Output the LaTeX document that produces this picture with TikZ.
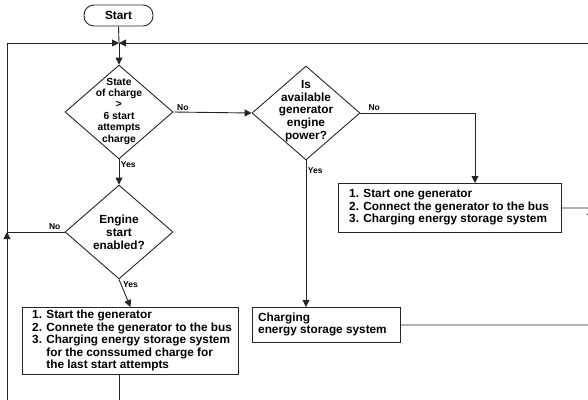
\documentclass[tikz,border=0pt]{standalone}
\usepackage{fontspec}
\setmainfont{Liberation Sans}
\usetikzlibrary{arrows.meta,shapes.geometric}
\begin{document}
\begin{tikzpicture}[x=1pt,y=-1pt,
  every node/.style={font=\bfseries\fontsize{11.8}{12.5}\selectfont},
  line/.style={line width=0.9pt,draw=black!85},
  arr/.style={line,-{Triangle[length=7pt,width=7pt]}},
  dia/.style={diamond,draw=black!85,line width=0.9pt,inner sep=0pt,minimum width=108pt,minimum height=94pt},
  box/.style={rectangle,draw=black!85,line width=0.9pt,inner sep=0pt,anchor=north west},
  btxt/.style={anchor=west,align=left,inner sep=0pt},
  lbl/.style={font=\bfseries\fontsize{8.5}{9}\selectfont,inner sep=1.5pt},
  dtxt/.style={align=center,inner sep=0pt}
]
\useasboundingbox (0,0) rectangle (588,399);
% start
\node[draw=black!85,line width=0.9pt,rounded corners=10pt,minimum width=69pt,minimum height=21pt,inner sep=0pt] (start) at (118.5,15.5) {Start};
\coordinate (m) at (119,43);
% diamonds
\node[dia] (d1) at (119,112) {};
\node[dtxt,font=\bfseries\fontsize{10.3}{11.4}\selectfont] (t1) at (119,111) {State\\of charge\\>\\6 start\\attempts\\charge};
\node[dia] (d2) at (119,232) {};
\node[dtxt,font=\bfseries\fontsize{11.8}{13}\selectfont] (t2) at (119,232.5) {Engine\\start\\enabled?};
\node[dia] (d3) at (306,113) {};
\node[dtxt,font=\bfseries\fontsize{11.8}{12.7}\selectfont] (t3) at (306,111) {Is\\available\\generator\\engine\\power?};
% boxes
\node[box,minimum width=223pt,minimum height=49pt] (b2) at (338,183) {};
\node[btxt] (x2) at ([xshift=11pt,yshift=0.5pt]b2.west) {1. Start one generator\\2. Connect the generator to the bus\\3. Charging energy storage system};
\node[box,minimum width=216pt,minimum height=67pt] (b1) at (22,307) {};
\node[btxt] (x1) at ([xshift=10pt,yshift=0.5pt]b1.west) {1. Start the generator\\2. Connete the generator to the bus\\3. Charging energy storage system\\\phantom{3. }for the conssumed charge for\\\phantom{3. }the last start attempts};
\node[box,minimum width=148pt,minimum height=35pt] (b3) at (252,307) {};
\node[btxt] (x3) at ([xshift=6pt,yshift=0.5pt]b3.west) {Charging\\energy storage system};
% connectors
\draw[line] (start.south) -- (m);
\draw[arr] (m) -- (d1.north);
\draw[arr] (d1.south) -- node[lbl,right,pos=0.2] {Yes} (d2.north);
\draw[arr] (d2.south) -- node[lbl,right,pos=0.2] {Yes} (b1.north);
\draw[arr] (d1.east) -- node[lbl,above,pos=0.12] {No} (d3.west);
\coordinate (c3) at (475,113);
\draw[arr] (d3.east) -- node[lbl,above,pos=0.12] {No} (c3) -- (b2.north -| c3);
\draw[arr] (d3.south) -- node[lbl,right,pos=0.07] {Yes} (b3.north -| d3.south);
% left loop
\coordinate (jl) at (7,232);
\coordinate (lb) at (7,400);
\coordinate (lt) at (7,43);
\draw[line] (d2.west) -- node[lbl,above,pos=0.17] {No} (jl);
\draw[arr] (lb) -- (jl);
\draw[arr] (jl) -- (lt) -- (m);
\coordinate (b1b) at (119,400);
\draw[line] (b1.south -| b1b) -- (b1b);
% right loop
\coordinate (jr) at (590.5,208);
\coordinate (rb) at (590.5,325);
\coordinate (rt) at (590.5,43);
\draw[line] (b2.east) -- (jr);
\draw[line] (b3.east) -- (rb);
\draw[arr] (rb) -- (jr);
\draw[arr] (jr) -- (rt) -- (m);
\end{tikzpicture}
\end{document}
